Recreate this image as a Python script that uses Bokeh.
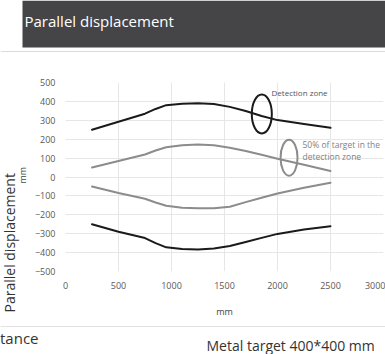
import math
from bokeh.plotting import figure
from bokeh.models import Range1d, FixedTicker, Label, BoxAnnotation
from bokeh.layouts import column, row
from bokeh.embed import file_html
from bokeh.resources import INLINE

# ---- data ----
distance_mm = [250, 500, 750, 850, 950, 1100, 1250, 1400, 1550, 1700, 1850, 2000, 2250, 2500]
detect_upper = [250, 292, 335, 360, 380, 388, 390, 386, 371, 349, 323, 301, 280, 260]
half_upper = [50, 85, 119, 140, 157, 168, 172, 168, 155, 138, 118, 97, 65, 32]
half_lower = [-50, -85, -115, -135, -152, -163, -166, -165, -157, -133, -110, -87, -57, -30]
detect_lower = [-250, -290, -323, -350, -372, -381, -383, -378, -365, -344, -322, -301, -278, -260]
x_ticks = [0, 500, 1000, 1500, 2000, 2500, 3000]
y_ticks = [-500, -400, -300, -200, -100, 0, 100, 200, 300, 400, 500]

FONT = "Open Sans"
BLACK = "#1a1a1a"
GRAY = "#8c8c8c"


def strip(w, h):
    """A figure whose frame is its whole canvas, in pixel-like coordinates (y down)."""
    f = figure(width=w, height=h, output_backend="svg", toolbar_location=None,
               x_range=Range1d(0, w), y_range=Range1d(h, 0),
               min_border=0, x_axis_location=None, y_axis_location=None)
    f.frame_align = False
    f.outline_line_color = None
    f.xgrid.visible = False
    f.ygrid.visible = False
    f.background_fill_color = "white"
    f.border_fill_color = "white"
    return f


def lab(f, text, x, y, size, color, align="left", angle=0.0):
    f.add_layout(Label(x=x, y=y, text=text, text_font=FONT, text_font_size=size,
                       text_color=color, text_align=align, text_baseline="middle",
                       angle=angle))


# ---- top strip: header bar + separator ----
TOP_H = 52
top = strip(385, TOP_H)
top.add_layout(BoxAnnotation(left=22, right=385, top=0, bottom=47,
                             fill_color="#454547", fill_alpha=1.0, line_color=None))
top.add_layout(BoxAnnotation(left=0, right=385, top=50.8, bottom=52,
                             fill_color="#cfcfcf", fill_alpha=1.0, line_color=None))
lab(top, "Parallel displacement", 24, 20, "15px", "white")

# ---- middle row ----
MID_H = 268
LEFT_W = 27
left = strip(LEFT_W, MID_H)
# rotated texts anchored at their lower (starting) end
lab(left, "Parallel displacement", 9, 312 - TOP_H, "14px", "#333333", "left", math.pi / 2)
lab(left, "mm", 21.5, 183 - TOP_H, "9px", "#444444", "left", math.pi / 2)

MAIN_W = 385 - LEFT_W
BL, BR, BT, BB = 38, 2, 30, 44
p = figure(width=MAIN_W, height=MID_H, output_backend="svg", toolbar_location=None,
           x_range=Range1d(0, 3000), y_range=Range1d(-500, 500),
           min_border_left=BL, min_border_right=BR, min_border_top=BT,
           min_border_bottom=BB)
p.frame_align = False
p.outline_line_color = None
p.background_fill_color = "white"
p.border_fill_color = "white"

for ax in (p.xaxis, p.yaxis):
    ax.axis_line_color = None
    ax.major_tick_line_color = None
    ax.minor_tick_line_color = None
    ax.major_tick_out = 0
    ax.major_tick_in = 0
    ax.minor_tick_out = 0
    ax.minor_tick_in = 0
    ax.major_label_text_font = FONT
    ax.major_label_text_font_size = "9px"
    ax.major_label_text_color = "#595959"
    ax.major_label_standoff = 10
p.xaxis.ticker = FixedTicker(ticks=x_ticks)
p.yaxis.ticker = FixedTicker(ticks=y_ticks)
p.xaxis.axis_label = "mm"
p.xaxis.axis_label_text_font = FONT
p.xaxis.axis_label_text_font_size = "9px"
p.xaxis.axis_label_text_font_style = "normal"
p.xaxis.axis_label_text_color = "#444444"
p.xaxis.axis_label_standoff = 13
p.xgrid.ticker = FixedTicker(ticks=x_ticks)
p.ygrid.ticker = FixedTicker(ticks=y_ticks)
p.xgrid.grid_line_color = "#e6e6e6"
p.ygrid.grid_line_color = "#e6e6e6"

for series, color in ((detect_upper, BLACK), (detect_lower, BLACK),
                      (half_upper, GRAY), (half_lower, GRAY)):
    p.line(distance_mm, series, line_color=color, line_width=2,
           line_join="round", line_cap="round")

# zone markers
p.ellipse(x=[1852], y=[333], width=[189], height=[206], fill_color=None,
          line_color=BLACK, line_width=2)
p.ellipse(x=[2109], y=[102], width=[160], height=[190], fill_color=None,
          line_color=GRAY, line_width=2)

sx = (MAIN_W - BL - BR) / 3000.0
sy = (MID_H - BT - BB) / 1000.0
def dx(X):
    return (X - LEFT_W - BL) / sx
def dy(Y):
    return 500 - (Y - TOP_H - BT) / sy

lab(p, "Detection zone", dx(271), dy(92), "8px", "#555555")
lab(p, "50% of target in the", dx(302), dy(146), "8.5px", "#7f7f7f")
lab(p, "detection zone", dx(302), dy(158), "8.5px", "#7f7f7f")

# ---- bottom strip ----
BOT_Y0 = TOP_H + MID_H
bot = strip(385, 354 - BOT_Y0)
bot.add_layout(BoxAnnotation(left=0, right=385, top=326 - BOT_Y0 - 0.6, bottom=326 - BOT_Y0 + 0.6,
                             fill_color="#e2e2e2", fill_alpha=1.0, line_color=None))
lab(bot, "Distance", 38, 337 - BOT_Y0, "15px", "#333333", "right")
lab(bot, "Metal target 400*400 mm", 206, 345 - BOT_Y0, "14px", "#333333")

layout = column(top, row(left, p, spacing=0), bot, spacing=0)
open("out.html", "w").write(file_html(layout, INLINE))
